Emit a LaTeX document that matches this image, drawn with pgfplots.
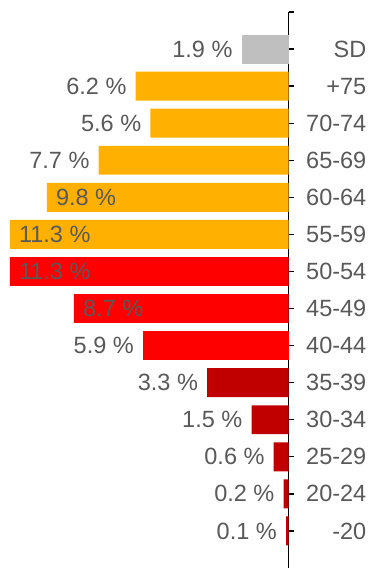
\documentclass[border=0pt]{standalone}
\usepackage{fontspec}
\setmainfont{Liberation Sans}
\usepackage{pgfplots}
\pgfplotsset{compat=1.18}

\definecolor{sdgray}{HTML}{BFBFBF}
\definecolor{agegold}{HTML}{FFB000}
\definecolor{agered}{HTML}{FF0000}
\definecolor{agedark}{HTML}{C00000}
\definecolor{labelgray}{HTML}{595959}

\newcommand{\lblfont}{\fontsize{23.5bp}{28bp}\selectfont}

% bars grow to the left: share v (in %) is drawn at -v, labelled with v
\pgfplotsset{
  agebar/.style={
    xbar, bar shift=0pt, bar width=0.78, draw=none, fill=#1,
    point meta=explicit,
    nodes near coords={\pgfmathprintnumber[fixed,fixed zerofill,precision=1]{\pgfplotspointmeta}~\%},
  },
  outlabel/.style={nodes near coords style={anchor=east, xshift=-9bp}},
  inlabel/.style={nodes near coords style={anchor=west, xshift=9bp}},
  table/share/.style={x expr=-\thisrow{v}, y=k, meta=v},
}

\begin{document}
\begin{tikzpicture}
% the left edge of the axis box lies outside the page, so only the
% right-hand spine at 0 % shows
\begin{axis}[
  at={(-20bp,0)}, anchor=south west,
  scale only axis, width=308.5bp, height=556bp,
  xmin=-12.511, xmax=0,
  ymin=-1, ymax=14,
  hide x axis,
  separate axis lines,
  y axis line style={draw=black, line width=1.6pt},
  ytick pos=right,
  ytick={0,...,14},
  yticklabels={-20,20-24,25-29,30-34,35-39,40-44,45-49,50-54,55-59,60-64,65-69,70-74,+75,SD,},
  ytick align=outside,
  major tick length=5bp,
  every tick/.style={draw=black, line width=1.3pt},
  yticklabel style={font=\lblfont, text=labelgray, anchor=east, inner sep=0pt, xshift=73bp},
  every node near coord/.append style={font=\lblfont, text=labelgray, inner sep=0pt},
  /pgf/number format/assume math mode=true,
  clip=false,
]
% not stated
\addplot[agebar=sdgray, outlabel] table[share] {
v    k
1.9  13
};
% older age bands
\addplot[agebar=agegold, outlabel] table[share] {
v    k
6.2  12
5.6  11
7.7  10
};
\addplot[agebar=agegold, inlabel] table[share] {
v    k
9.8  9
11.3 8
};
% middle age bands
\addplot[agebar=agered, inlabel] table[share] {
v    k
11.3 7
8.7  6
};
\addplot[agebar=agered, outlabel] table[share] {
v    k
5.9  5
};
% younger age bands
\addplot[agebar=agedark, outlabel] table[share] {
v    k
3.3  4
1.5  3
0.6  2
0.2  1
0.1  0
};
\end{axis}
\pgfresetboundingbox
\path (0,0) rectangle (369bp,568bp);
\end{tikzpicture}
\end{document}
